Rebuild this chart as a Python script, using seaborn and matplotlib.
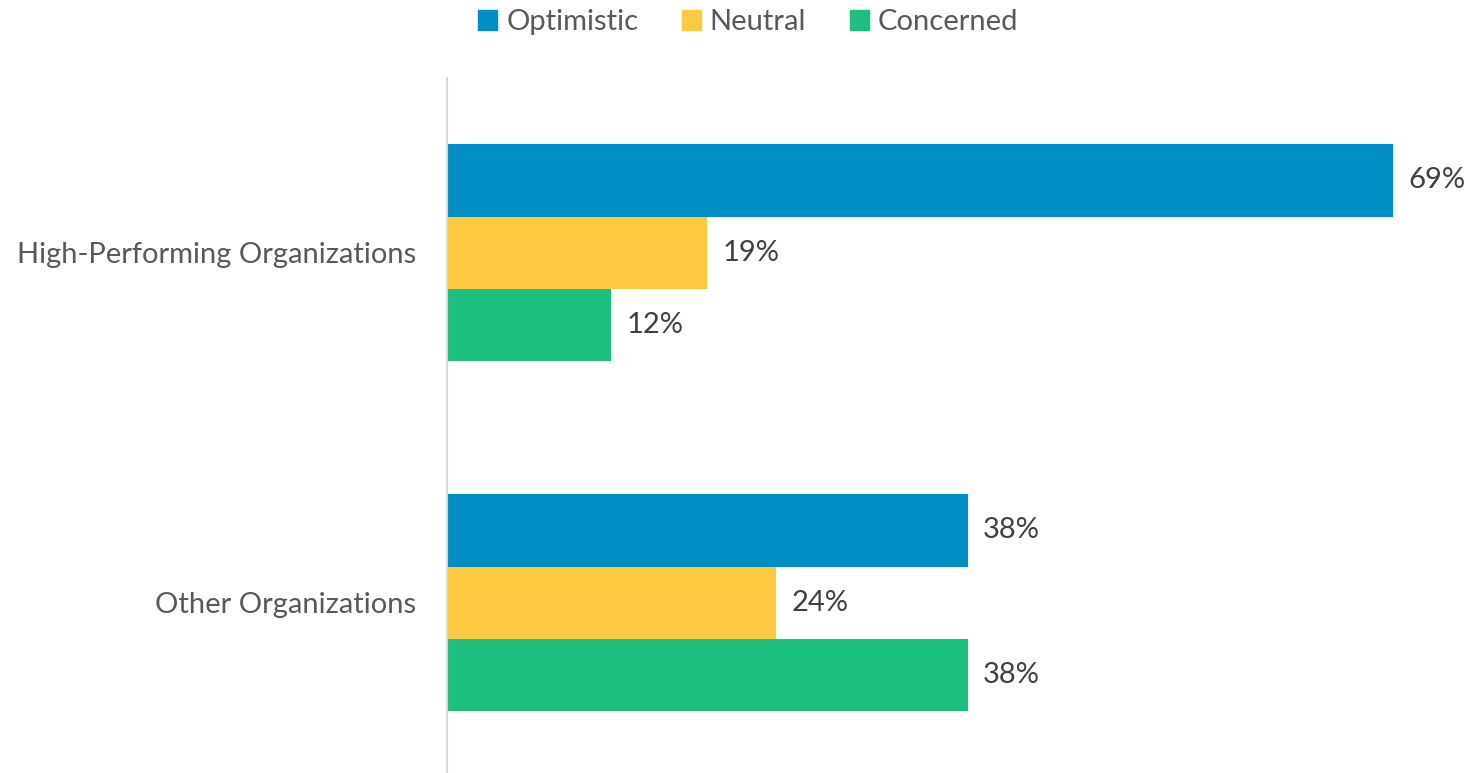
import matplotlib
matplotlib.use("Agg")
import matplotlib.pyplot as plt
import seaborn as sns
import pandas as pd

categories = ["High-Performing Organizations", "Other Organizations"]
series = ["Optimistic", "Neutral", "Concerned"]
optimistic = [69, 38]
neutral = [19, 24]
concerned = [12, 38]
colors = ["#008FC4", "#FDC940", "#1DBF7F"]

rows = []
for name, vals in zip(series, [optimistic, neutral, concerned]):
    for cat, v in zip(categories, vals):
        rows.append({"Organization": cat, "Sentiment": name, "Share": v})
df = pd.DataFrame(rows)

sns.set_theme(style="white")
plt.rcParams["font.family"] = ["Lato", "DejaVu Sans"]
text_color = "#595959"

fig = plt.figure(figsize=(14.73, 7.73), dpi=100)
ax = fig.add_axes([447 / 1473, 0.0, (1473 - 447) / 1473, (773 - 78) / 773])

sns.barplot(data=df, y="Organization", x="Share", hue="Sentiment",
            order=categories, hue_order=series, palette=colors,
            orient="h", width=0.62, saturation=1, linewidth=0,
            ax=ax, legend=False)

ax.set_xlim(0, 74.85)
ax.set_ylim(1.486, -0.499)

for container in ax.containers:
    ax.bar_label(container, labels=[f"{v:.0f}%" for v in container.datavalues],
                 padding=11, fontsize=21, color="#404040")

ax.set_xlabel("")
ax.set_ylabel("")
ax.set_xticks([])
ax.tick_params(axis="y", length=0, pad=22, labelsize=21, labelcolor=text_color)
for side in ["top", "right", "bottom"]:
    ax.spines[side].set_visible(False)
ax.spines["left"].set_color("#D9D9D9")
ax.spines["left"].set_linewidth(1.5)

handles = [plt.Rectangle((0, 0), 1, 1, color=c) for c in colors]
fig.legend(handles, series, loc="upper center", bbox_to_anchor=(0.508, 1.022),
           ncol=3, frameon=False, fontsize=21, labelcolor=text_color,
           handlelength=0.65, handleheight=0.65, handletextpad=0.3,
           columnspacing=1.5)

fig.savefig("out.png", dpi=100)
